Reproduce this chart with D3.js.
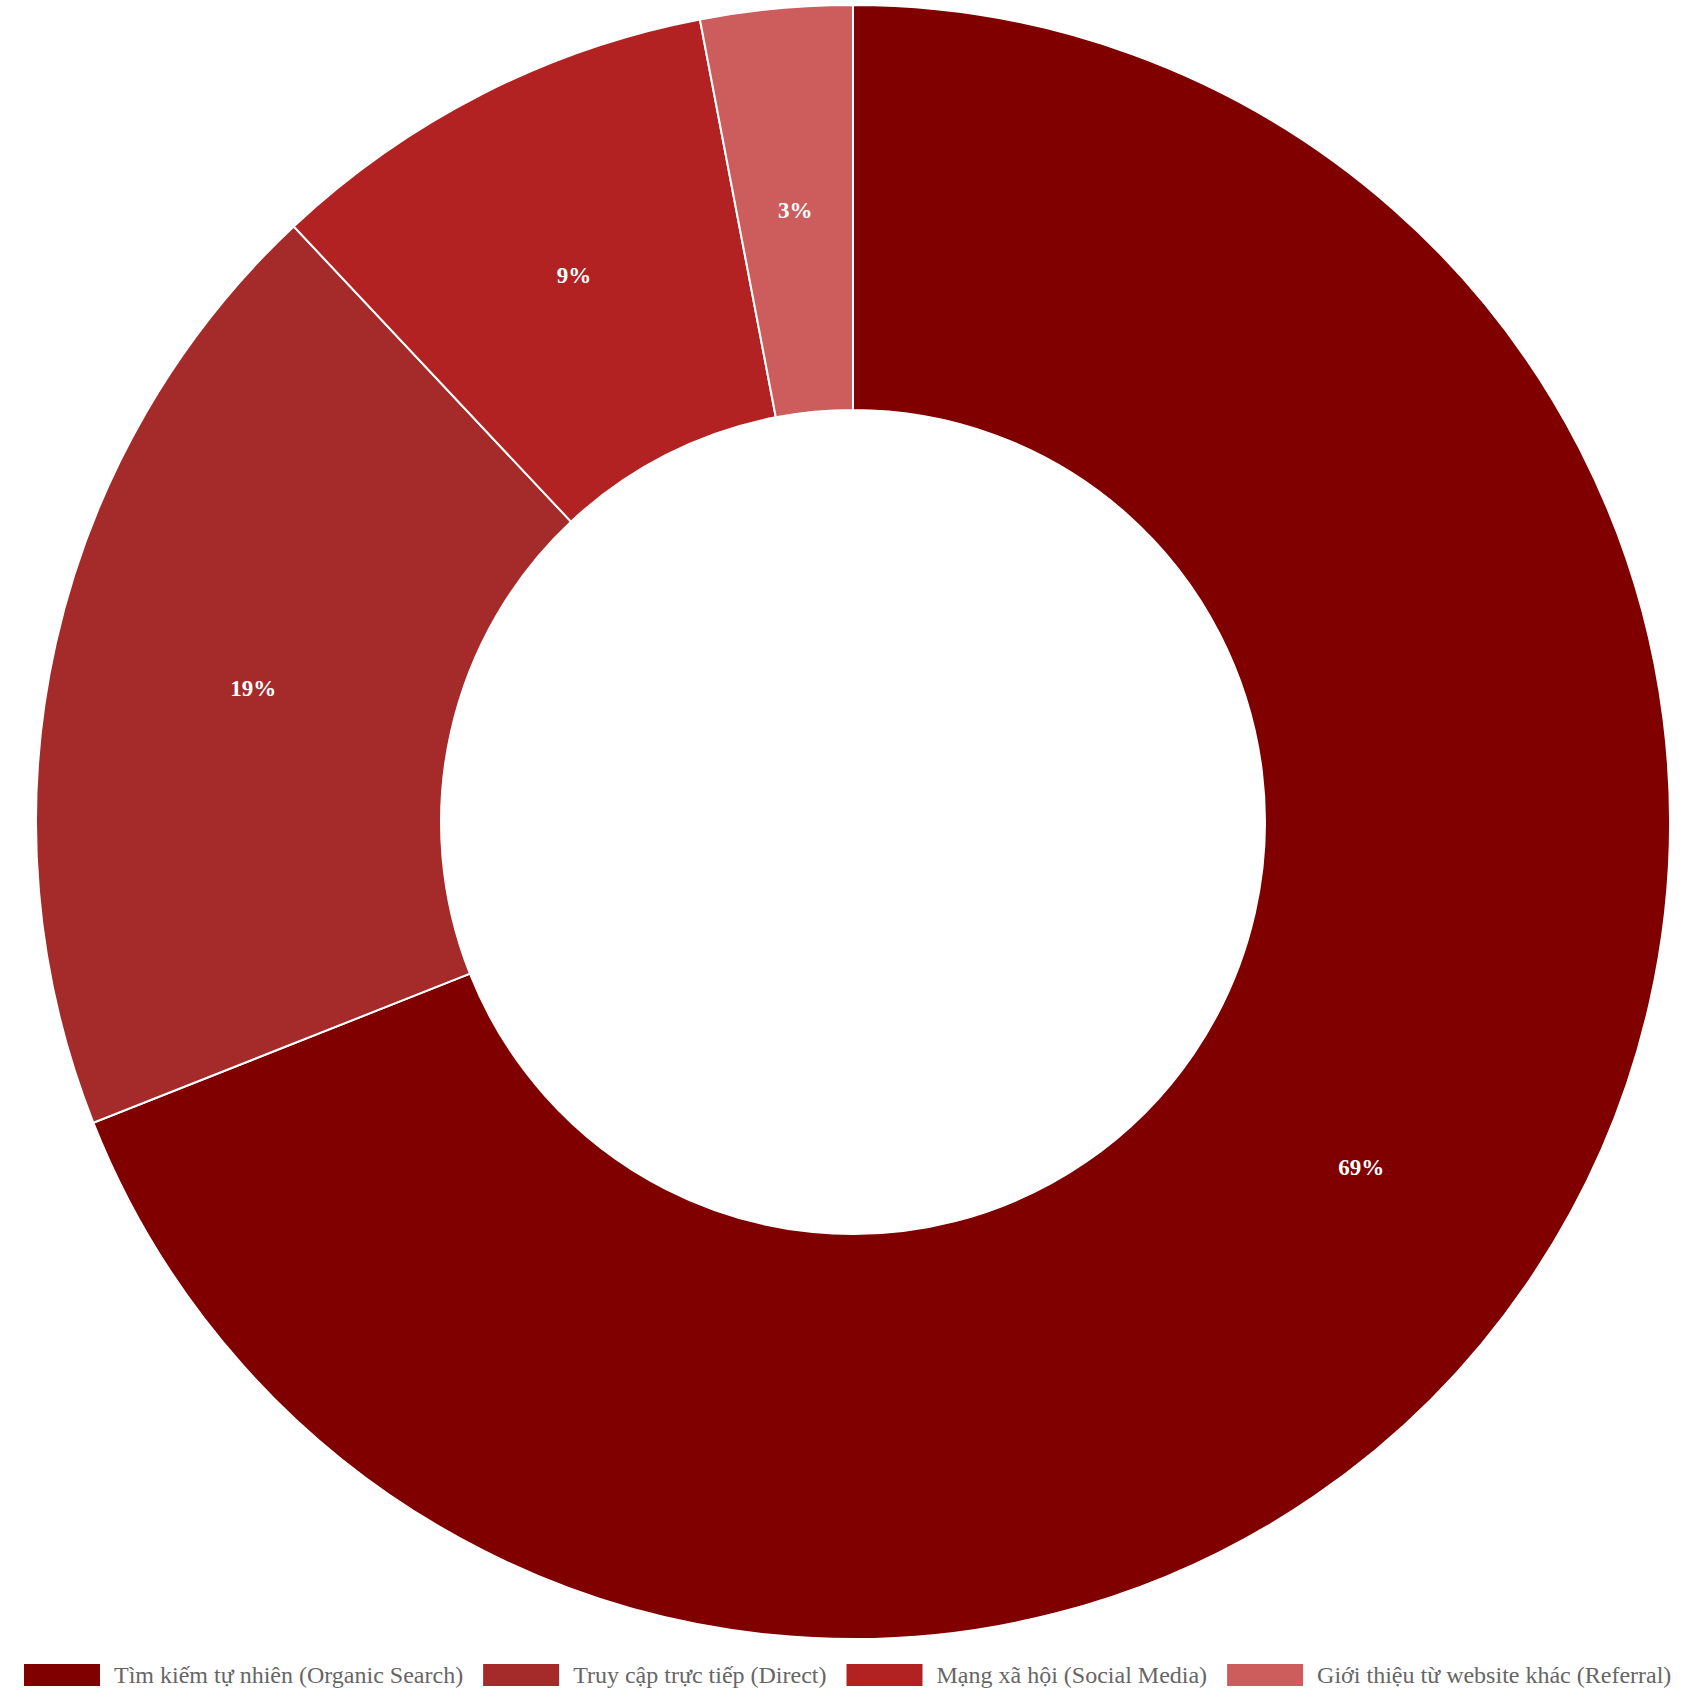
<!DOCTYPE html>
<html><head><meta charset="utf-8">
<script src="https://cdn.jsdelivr.net/npm/d3@7"></script>
<style>body{margin:0;background:#fff}</style></head>
<body><svg id="c" width="1708" height="1708"></svg>
<script>
const categories=["Tìm kiếm tự nhiên (Organic Search)","Truy cập trực tiếp (Direct)","Mạng xã hội (Social Media)","Giới thiệu từ website khác (Referral)"];
const values=[69,19,9,3];
const colors=["#800000","#A52A2A","#B22222","#CD5C5C"];
const svg=d3.select("#c");
const cx=853,cy=822,R=817,r=412;
const pie=d3.pie().sort(null)(values);
const arc=d3.arc().innerRadius(r).outerRadius(R);
const g=svg.append("g").attr("transform",`translate(${cx},${cy})`);
g.selectAll("path").data(pie).join("path").attr("d",arc).attr("fill",(d,i)=>colors[i]).attr("stroke","#fff").attr("stroke-width",2);
g.selectAll("text").data(pie).join("text").attr("transform",d=>`translate(${arc.centroid(d)})`)
 .attr("text-anchor","middle").attr("dy","0.35em").attr("fill","#fff").attr("font-weight","bold")
 .attr("font-family","Liberation Serif, serif").attr("font-size",23).text(d=>d.data+"%");
const lg=svg.append("g");
let x=24;
categories.forEach((c,i)=>{
 lg.append("rect").attr("x",x).attr("y",1664).attr("width",76).attr("height",22).attr("fill",colors[i]);
 const t=lg.append("text").attr("x",x+90).attr("y",1683).attr("font-family","Liberation Serif, serif").attr("font-size",24).attr("fill","#666").text(c);
 x+=90+t.node().getComputedTextLength()+20;
});
</script></body></html>
